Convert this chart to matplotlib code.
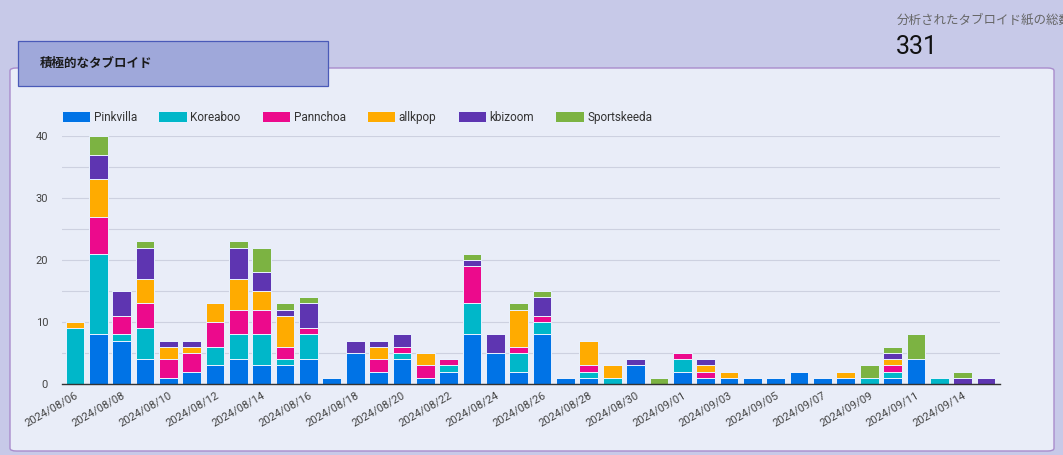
import matplotlib
matplotlib.use("Agg")
import matplotlib.pyplot as plt
from matplotlib.patches import FancyBboxPatch, Rectangle
import numpy as np

plt.rcParams['font.family'] = ['Roboto', 'Noto Sans CJK JP', 'DejaVu Sans']

dates = ["2024/08/06", "2024/08/07", "2024/08/08", "2024/08/09", "2024/08/10",
         "2024/08/11", "2024/08/12", "2024/08/13", "2024/08/14", "2024/08/15",
         "2024/08/16", "2024/08/17", "2024/08/18", "2024/08/19", "2024/08/20",
         "2024/08/21", "2024/08/22", "2024/08/23", "2024/08/24", "2024/08/25",
         "2024/08/26", "2024/08/27", "2024/08/28", "2024/08/29", "2024/08/30",
         "2024/08/31", "2024/09/01", "2024/09/02", "2024/09/03", "2024/09/04",
         "2024/09/05", "2024/09/06", "2024/09/07", "2024/09/08", "2024/09/09",
         "2024/09/10", "2024/09/11", "2024/09/12", "2024/09/14", "2024/09/15"]

pinkvilla   = [0, 8, 7, 4, 1, 2, 3, 4, 3, 3, 4, 1, 5, 2, 4, 1, 2, 8, 5, 2,
               8, 1, 1, 0, 3, 0, 2, 1, 1, 1, 1, 2, 1, 1, 0, 1, 4, 0, 0, 0]
koreaboo    = [9, 13, 1, 5, 0, 0, 3, 4, 5, 1, 4, 0, 0, 0, 1, 0, 1, 5, 0, 3,
               2, 0, 1, 1, 0, 0, 2, 0, 0, 0, 0, 0, 0, 0, 1, 1, 0, 1, 0, 0]
pannchoa    = [0, 6, 3, 4, 3, 3, 4, 4, 4, 2, 1, 0, 0, 2, 1, 2, 1, 6, 0, 1,
               1, 0, 1, 0, 0, 0, 1, 1, 0, 0, 0, 0, 0, 0, 0, 1, 0, 0, 0, 0]
allkpop     = [1, 6, 0, 4, 2, 1, 3, 5, 3, 5, 0, 0, 0, 2, 0, 2, 0, 0, 0, 6,
               0, 0, 4, 2, 0, 0, 0, 1, 1, 0, 0, 0, 0, 1, 0, 1, 0, 0, 0, 0]
kbizoom     = [0, 4, 4, 5, 1, 1, 0, 5, 3, 1, 4, 0, 2, 1, 2, 0, 0, 1, 3, 0,
               3, 0, 0, 0, 1, 0, 0, 1, 0, 0, 0, 0, 0, 0, 0, 1, 0, 0, 1, 1]
sportskeeda = [0, 3, 0, 1, 0, 0, 0, 1, 4, 1, 1, 0, 0, 0, 0, 0, 0, 1, 0, 1,
               1, 0, 0, 0, 0, 1, 0, 0, 0, 0, 0, 0, 0, 0, 2, 1, 4, 0, 1, 0]

series_names = ["Pinkvilla", "Koreaboo", "Pannchoa", "allkpop", "kbizoom", "Sportskeeda"]
series_vals = [pinkvilla, koreaboo, pannchoa, allkpop, kbizoom, sportskeeda]
colors = ["#0073e6", "#00b7c9", "#ec0a8c", "#ffab00", "#5e35b1", "#7cb342"]

title_text = "積極的なタブロイド"
kpi_label = "分析されたタブロイド紙の総数"
kpi_value = "331"

W, H = 1063, 455
fig = plt.figure(figsize=(W / 100, H / 100), dpi=100)
fig.patch.set_facecolor("#c7c9e8")

def fx(px):
    return px / W

def fy(py):
    return 1 - py / H

# panel
panel = FancyBboxPatch((fx(10), fy(451)), fx(1054) - fx(10), fy(68) - fy(451),
                       boxstyle="round,pad=0,rounding_size=0.006",
                       transform=fig.transFigure, facecolor="#e9edf8",
                       edgecolor="#a98ccc", linewidth=1.0, zorder=0)
fig.patches.append(panel)

# title box
tbox = Rectangle((fx(18), fy(86)), fx(328) - fx(18), fy(41) - fy(86),
                 transform=fig.transFigure, facecolor="#9fa8da",
                 edgecolor="#4a5ab8", linewidth=0.9, zorder=1)
fig.patches.append(tbox)
fig.text(fx(40), fy(63), title_text, fontsize=9, fontweight="bold",
         color="#1a1a1a", va="center", ha="left",
         family=['Noto Sans CJK JP', 'DejaVu Sans'])

# KPI
fig.text(fx(897), fy(20), kpi_label, fontsize=9, color="#666666",
         va="center", ha="left", family=['Noto Sans CJK JP', 'DejaVu Sans'])
fig.text(fx(896), fy(47), kpi_value, fontsize=18, color="#111111",
         va="center", ha="left")

# axes
ax = fig.add_axes([fx(62), fy(384), fx(1000) - fx(62), fy(136) - fy(384)])
ax.set_zorder(5)
ax.set_facecolor("none")
x = np.arange(len(dates))
bottom = np.zeros(len(dates))
for name, vals, c in zip(series_names, series_vals, colors):
    v = np.array(vals, dtype=float)
    ax.bar(x, v, bottom=bottom, width=0.8, color=c, edgecolor="#e9f2ff",
           linewidth=0.7, label=name, zorder=3)
    bottom += v

ax.set_xlim(-0.55, 39.6)
ax.set_ylim(0, 40)
ax.set_yticks([0, 10, 20, 30, 40])
ax.set_yticks([5, 15, 25, 35], minor=True)
ax.grid(axis="y", which="both", color="#cdd1e0", linewidth=0.8, zorder=0)
ax.set_axisbelow(True)
for s in ["top", "right", "left"]:
    ax.spines[s].set_visible(False)
ax.spines["bottom"].set_color("#333333")
ax.spines["bottom"].set_linewidth(1.0)
ax.spines["bottom"].set_zorder(4)
ax.tick_params(axis="y", which="both", length=0, labelsize=8, labelcolor="#444444", pad=10)
ax.tick_params(axis="x", length=0, labelsize=8, labelcolor="#444444", pad=4)

tick_pos = x[::2]
ax.set_xticks(tick_pos)
ax.set_xticklabels([dates[i] for i in tick_pos], rotation=30, ha="right",
                   rotation_mode="anchor")

leg = ax.legend(loc="lower left", bbox_to_anchor=(0.0, 1.05), ncol=6,
                frameon=False, fontsize=8.5, handlelength=2.4, handleheight=1.05,
                handletextpad=0.3, columnspacing=1.8, borderaxespad=0,
                borderpad=0)
for t in leg.get_texts():
    t.set_color("#333333")

fig.savefig("out.png", dpi=100, facecolor=fig.get_facecolor())
